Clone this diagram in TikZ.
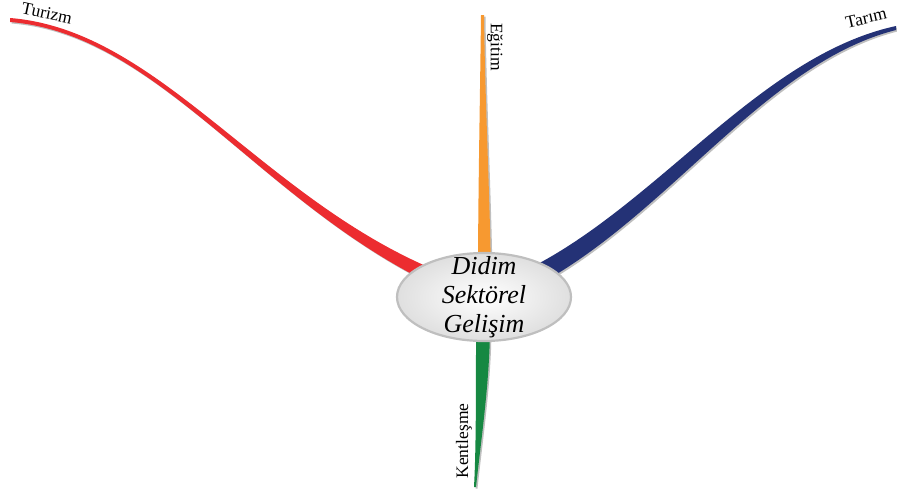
\documentclass[tikz,border=0pt]{standalone}
\usepackage{fontspec}
\setmainfont{Liberation Serif}
\usetikzlibrary{shapes.geometric}
\definecolor{rojo}{RGB}{236,44,48}
\definecolor{naranja}{RGB}{247,153,48}
\definecolor{azul}{RGB}{36,50,118}
\definecolor{verde}{RGB}{22,136,66}
% Rama con sombra: color y contorno
\newcommand{\rama}[2]{\fill[sombra] #2; \fill[#1] #2;}
\begin{document}
\begin{tikzpicture}[x=1pt, y=-1pt,
    sombra/.style={fill=gray!50, shift={(1.5,1.5)}},
    etiqueta/.style={font=\fontsize{17.5}{17.5}\selectfont, inner sep=0pt},
    centro/.style={ellipse, draw=gray!50, line width=2.2pt, inner color=white,
      outer color=gray!25, minimum width=174pt, minimum height=88pt, inner sep=0pt},
    textocentro/.style={align=center, inner sep=0pt,
      font=\fontsize{26}{29}\selectfont\itshape}]

    % Fijar el marco
    \useasboundingbox (0,0) rectangle (897,488);

    % Rama roja hacia la izquierda
    \rama{rojo}{(10,18) .. controls (160,30) and (262,200) .. (440,272)
      -- (440,288) .. controls (262,206) and (160,34) .. (10,22) -- cycle}

    % Rama azul hacia la derecha
    \rama{azul}{(522,272) .. controls (656,208) and (758,56) .. (896,26)
      -- (896,30) .. controls (762,64) and (664,222) .. (528,290) -- cycle}

    % Rama naranja hacia arriba
    \rama{naranja}{(481,15) .. controls (480,100) and (478,200) .. (478,275)
      -- (491,275) .. controls (490,200) and (485,100) .. (484,15) -- cycle}

    % Rama verde hacia abajo
    \rama{verde}{(476,325) .. controls (476,400) and (476,450) .. (474,487)
      -- (476,487) .. controls (481,440) and (490,380) .. (490,325) -- cycle}

    % Nodo central
    \node[centro] (hub) at (484,297) {};
    \node[textocentro] (hubtexto) at (hub) {Didim\\Sektörel\\Gelişim};

    % Etiquetas de las ramas
    \node[etiqueta, rotate=-12] (turizm) at (47,13) {Turizm};
    \node[etiqueta, rotate=13] (tarim) at (866,18) {Tarım};
    \node[etiqueta, rotate=-90] (egitim) at (495,47) {Eğitim};
    \node[etiqueta, rotate=90] (kentlesme) at (464,441) {Kentleşme};
\end{tikzpicture}
\end{document}
